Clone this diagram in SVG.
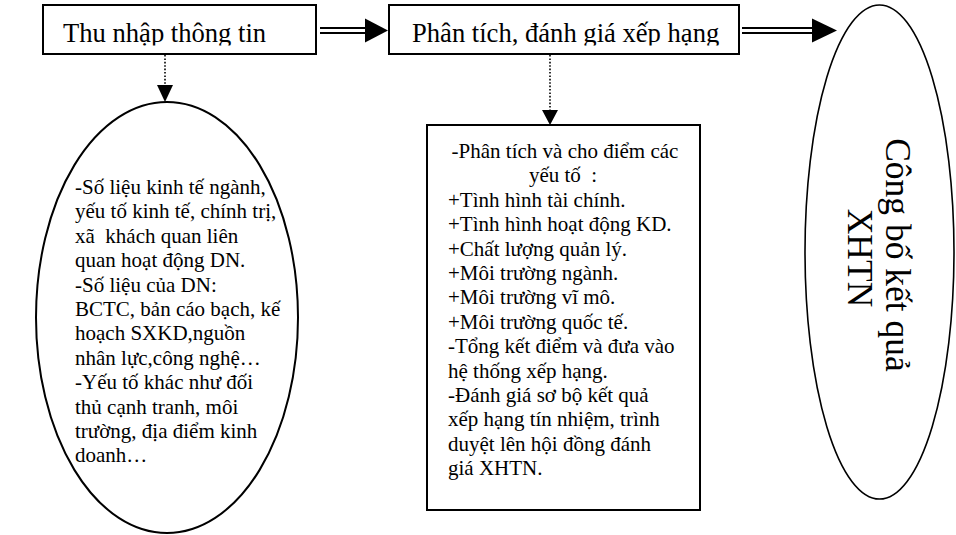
<svg xmlns="http://www.w3.org/2000/svg" width="956" height="535" viewBox="0 0 956 535">
<style>
text{font-family:"Liberation Serif","Times New Roman","DejaVu Serif",serif;fill:#000;white-space:pre}
.box{fill:#fff;stroke:#000;stroke-width:2}
.ell{fill:#fff;stroke:#000;stroke-width:2}
.t26{font-size:26.6px}
.t21{font-size:21px}
.dot{stroke:#000;stroke-width:1.6;stroke-dasharray:1.6 1.8;fill:none}
.dbl{stroke:#000;stroke-width:2;fill:none}
.head{fill:#000}
</style>
<defs>
<clipPath id="clipTop"><rect x="0" y="0" width="956" height="45.5"/></clipPath>
</defs>
<g id="node-thu-nhap">
<rect class="box" x="43" y="5" width="273" height="49"/>
<text class="t26" x="63" y="42" clip-path="url(#clipTop)">Thu nhập thông tin</text>
</g>
<g id="node-phan-tich">
<rect class="box" x="389" y="5" width="350" height="49"/>
<text class="t26" x="412" y="42" clip-path="url(#clipTop)">Phân tích, đánh giá xếp hạng</text>
</g>
<g id="node-nguon-thong-tin">
<ellipse class="ell" cx="167" cy="317.5" rx="131" ry="215.5"/>
<text class="t21" x="75" y="194">-Số liệu kinh tế ngành,</text>
<text class="t21" x="75" y="218.4">yếu tố kinh tế, chính trị,</text>
<text class="t21" x="75" y="242.8">xã  khách quan liên</text>
<text class="t21" x="75" y="267.2">quan hoạt động DN.</text>
<text class="t21" x="75" y="291.6">-Số liệu của DN:</text>
<text class="t21" x="75" y="316">BCTC, bản cáo bạch, kế</text>
<text class="t21" x="75" y="340.4">hoạch SXKD,nguồn</text>
<text class="t21" x="75" y="364.8">nhân lực,công nghệ…</text>
<text class="t21" x="75" y="389.2">-Yếu tố khác như đối</text>
<text class="t21" x="75" y="413.6">thủ cạnh tranh, môi</text>
<text class="t21" x="75" y="438">trường, địa điểm kinh</text>
<text class="t21" x="75" y="462.4">doanh…</text>
</g>
<g id="node-chi-tiet">
<rect class="box" x="427" y="125" width="273" height="385"/>
<text class="t21" x="565" y="158" text-anchor="middle">-Phân tích và cho điểm các</text>
<text class="t21" x="563" y="182.4" text-anchor="middle">yếu tố  :</text>
<text class="t21" x="448" y="206.8">+Tình hình tài chính.</text>
<text class="t21" x="448" y="231.2">+Tình hình hoạt động KD.</text>
<text class="t21" x="448" y="255.6">+Chất lượng quản lý.</text>
<text class="t21" x="448" y="280">+Môi trường ngành.</text>
<text class="t21" x="448" y="304.4">+Môi trường vĩ mô.</text>
<text class="t21" x="448" y="328.8">+Môi trường quốc tế.</text>
<text class="t21" x="448" y="353.2">-Tổng kết điểm và đưa vào</text>
<text class="t21" x="448" y="377.6">hệ thống xếp hạng.</text>
<text class="t21" x="448" y="402">-Đánh giá sơ bộ kết quả</text>
<text class="t21" x="448" y="426.4">xếp hạng tín nhiệm, trình</text>
<text class="t21" x="448" y="450.8">duyệt lên hội đồng đánh</text>
<text class="t21" x="448" y="475.2">giá XHTN.</text>
</g>
<g id="node-cong-bo">
<ellipse cx="879.5" cy="252" rx="74.5" ry="247" fill="#fff" stroke="#000" stroke-width="1.6"/>
<text transform="translate(886,255) rotate(90)" x="0" y="0" text-anchor="middle" font-size="35.5">Công bố kết quả</text>
<text transform="translate(848,258) rotate(90)" x="0" y="0" text-anchor="middle" font-size="35.5">XHTN</text>
</g>
<g id="connectors">
<line class="dbl" x1="320" y1="28" x2="368" y2="28"/>
<line class="dbl" x1="320" y1="33" x2="368" y2="33"/>
<polygon class="head" points="365,18.5 388,30.5 365,42.5"/>
<line class="dbl" x1="742" y1="28" x2="815" y2="28"/>
<line class="dbl" x1="742" y1="33" x2="815" y2="33"/>
<polygon class="head" points="812,18.5 837,30.5 812,42.5"/>
<line class="dot" x1="165" y1="55" x2="165" y2="87"/>
<polygon class="head" points="157,85 173,85 165,102"/>
<line class="dot" x1="550" y1="55" x2="550" y2="112"/>
<polygon class="head" points="542,110 558,110 550,125"/>
</g>
</svg>
